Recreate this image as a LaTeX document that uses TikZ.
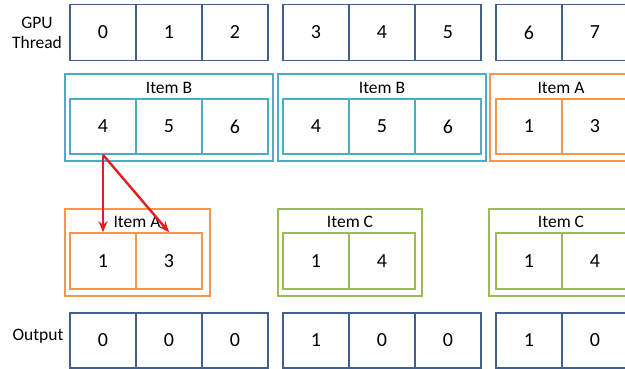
\documentclass[tikz,border=0pt]{standalone}
\usepackage{fontspec}
\setmainfont{Carlito}
\usetikzlibrary{arrows.meta}
\definecolor{rowblue}{HTML}{41618C}
\definecolor{itemb}{HTML}{4BACC6}
\definecolor{itema}{HTML}{F79646}
\definecolor{itemc}{HTML}{9BBB59}
\definecolor{arrred}{HTML}{E02020}
\tikzset{
  cell/.style={draw=#1, line width=1.6pt, minimum width=66pt, minimum height=56pt,
    inner sep=0pt, font=\fontsize{20}{24}\selectfont},
  outerbox/.style={draw=#1, line width=1.6pt, minimum height=87pt, inner sep=0pt},
  itemlabel/.style={font=\fontsize{17.5}{20}\selectfont, inner sep=1pt},
  rowlabel/.style={font=\fontsize{17.5}{20}\selectfont, align=center, inner sep=0pt},
  moveto/.style={draw=arrred, line width=2.4pt, -{Stealth[length=11pt,width=9pt]}}
}
\begin{document}
\begin{tikzpicture}[x=1pt,y=-1pt]
	\useasboundingbox (0,0) rectangle (625,369);
	\clip (0,0) rectangle (625,369);
	
	% row labels
	\node[rowlabel] (gpulab) at (37,33) {GPU\\Thread};
	\node[rowlabel] (outlab) at (38,336) {Output};
	
	% gpu threads
	\foreach \v [count=\i from 0] in {0,...,7}
	{
	\pgfmathsetmacro\cx{103+66*\i+15*floor(\i/3)}
	\node[cell=rowblue] (thr\i) at (\cx,32.5) {\v};
	}
	
	% item boxes, upper row
	\node[outerbox=itemb, minimum width=208pt] (boxB1) at (169,117.5) {};
	\node[outerbox=itemb, minimum width=208pt] (boxB2) at (382,117.5) {};
	\node[outerbox=itema, minimum width=142pt] (boxA1) at (561,117.5) {};
	\node[itemlabel] (labB1) at (169,88) {Item B};
	\node[itemlabel] (labB2) at (382,88) {Item B};
	\node[itemlabel] (labA1) at (561,88) {Item A};
	
	\foreach \v/\c [count=\i from 0] in {4/itemb,5/itemb,6/itemb,4/itemb,5/itemb,6/itemb,1/itema,3/itema}
	{
	\pgfmathsetmacro\cx{103+66*\i+15*floor(\i/3)}
	\node[cell=\c, minimum height=55pt] (itm\i) at (\cx,126.5) {\v};
	}
	
	% item boxes, lower row
	\node[outerbox=itema, minimum width=145pt] (boxA2) at (137.5,252.5) {};
	\node[outerbox=itemc, minimum width=144pt] (boxC1) at (350,252.5) {};
	\node[outerbox=itemc, minimum width=144pt] (boxC2) at (561,252.5) {};
	\node[itemlabel] (labA2) at (137,222) {Item A};
	\node[itemlabel] (labC1) at (350,222) {Item C};
	\node[itemlabel] (labC2) at (561,222) {Item C};
	
	\foreach \i/\v/\c in {0/1/itema,1/3/itema,3/1/itemc,4/4/itemc,6/1/itemc,7/4/itemc}
	{
	\pgfmathsetmacro\cx{103+66*\i+15*floor(\i/3)}
	\node[cell=\c] (low\i) at (\cx,261) {\v};
	}
	
	% output
	\foreach \v [count=\i from 0] in {0,0,0,1,0,0,1,0}
	{
	\pgfmathsetmacro\cx{103+66*\i+15*floor(\i/3)}
	\node[cell=rowblue, minimum height=55pt] (out\i) at (\cx,340.5) {\v};
	}
	
	% red arrows
	\draw[moveto] (itm0.south) -- (low0.north);
	\draw[moveto] (itm0.south) -- (low1.north);
\end{tikzpicture}
\end{document}
